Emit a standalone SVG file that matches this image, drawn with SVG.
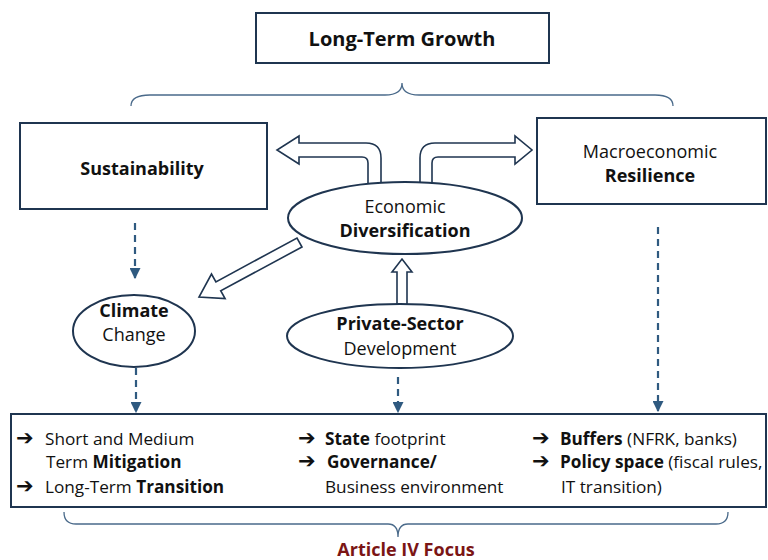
<svg xmlns="http://www.w3.org/2000/svg" width="768" height="560" viewBox="0 0 768 560">
<style>
text{font-family:"Open Sans","Liberation Sans",Arial,sans-serif;font-size:18px;fill:#111}
.b{font-weight:bold}
.s{font-size:17.2px}
.ar{font-family:"DejaVu Sans",sans-serif;font-size:21px;font-weight:bold}
.box{fill:#fff;stroke:#1f3550;stroke-width:2}
.ell{fill:#fff;stroke:#1f3550;stroke-width:2}
.blk{fill:#fff;stroke:#1f3550;stroke-width:1.6;stroke-linejoin:miter}
.dash{fill:none;stroke:#2f5a80;stroke-width:2.2;stroke-dasharray:7 5}
.brace{fill:none;stroke:#4a6a8a;stroke-width:1.3}
.c{text-anchor:middle}
</style>
<defs>
<marker id="ah" viewBox="0 0 10 10" refX="9" refY="5" markerWidth="5" markerHeight="5" orient="auto" markerUnits="strokeWidth">
<path d="M0 0 L10 5 L0 10 Z" fill="#2f5a80"/>
</marker>
</defs>
<g id="connectors">
<path class="brace" d="M131 106 Q131 95 150 95 L385 95 Q402 95 402 83 Q402 95 419 95 L655 95 Q673 95 673 106"/>
<path class="brace" d="M64 512 Q64 524 76 524 L388 524 Q398 524 398 537 Q398 524 408 524 L716 524 Q728 524 728 512"/>
<path class="blk" d="M368 186 L368 163 Q368 157 362 157 L299 157 L299 164 L277 150 L299 136 L299 143 L366 143 Q381 143 381 158 L381 186 Z"/>
<path class="blk" d="M420 186 L420 158 Q420 143 435 143 L515 143 L515 136 L532 150 L515 164 L515 157 L438 157 Q432 157 432 163 L432 186 Z"/>
<path class="blk" d="M302 247 L220.7 290.7 L225.1 298.6 L199 297 L211.5 274 L215.9 281.9 L297 238 Z"/>
<path class="blk" d="M397 306 L397 272 L392 272 L402 259 L412 272 L407 272 L407 306 Z"/>
<line class="dash" x1="135" y1="223" x2="135" y2="278" marker-end="url(#ah)"/>
<line class="dash" x1="658" y1="227" x2="658" y2="411" marker-end="url(#ah)"/>
<line class="dash" x1="136" y1="368" x2="136" y2="412" marker-end="url(#ah)"/>
<line class="dash" x1="398" y1="377" x2="398" y2="412" marker-end="url(#ah)"/>
</g>
<g id="growth">
<rect class="box" x="256" y="13" width="293" height="50"/>
<text class="b c" x="402" y="46" style="font-size:20px">Long-Term Growth</text>
</g>
<g id="sustainability">
<rect class="box" x="20" y="123" width="247" height="86"/>
<text class="b c" x="142" y="175">Sustainability</text>
</g>
<g id="resilience">
<rect class="box" x="537" y="118" width="229" height="86"/>
<text class="c" x="650" y="158">Macroeconomic</text>
<text class="b c" x="650" y="182">Resilience</text>
</g>
<g id="diversification">
<ellipse class="ell" cx="405" cy="218" rx="117" ry="36"/>
<text class="c" x="405" y="213">Economic</text>
<text class="b c" x="405" y="237">Diversification</text>
</g>
<g id="climate">
<ellipse class="ell" cx="134" cy="331" rx="61" ry="36"/>
<text class="b c" x="134" y="317">Climate</text>
<text class="c" x="134" y="341">Change</text>
</g>
<g id="private">
<ellipse class="ell" cx="400" cy="336" rx="113" ry="32"/>
<text class="b c" x="400" y="330">Private-Sector</text>
<text class="c" x="400" y="355">Development</text>
</g>
<g id="focus">
<rect class="box" x="11" y="414" width="755" height="93"/>
<text class="ar" x="16" y="445">➔</text>
<text class="s" x="45" y="445">Short and Medium</text>
<text class="s" x="46" y="468">Term <tspan class="b">Mitigation</tspan></text>
<text class="ar" x="16" y="493">➔</text>
<text class="s" x="45" y="493">Long-Term <tspan class="b">Transition</tspan></text>
<text class="ar" x="298" y="445">➔</text>
<text class="s" x="325" y="445"><tspan class="b">State</tspan> footprint</text>
<text class="ar" x="298" y="468">➔</text>
<text class="s b" x="327" y="468">Governance/</text>
<text class="s" x="325" y="493">Business environment</text>
<text class="ar" x="532" y="445">➔</text>
<text class="s" x="560" y="445"><tspan class="b">Buffers</tspan> (NFRK, banks)</text>
<text class="ar" x="532" y="468">➔</text>
<text class="s" x="560" y="468"><tspan class="b">Policy space</tspan> (fiscal rules,</text>
<text class="s" x="561" y="493">IT transition)</text>
</g>
<g id="article">
<text class="b c" x="406" y="556" style="fill:#7b1515">Article IV Focus</text>
</g>
</svg>
